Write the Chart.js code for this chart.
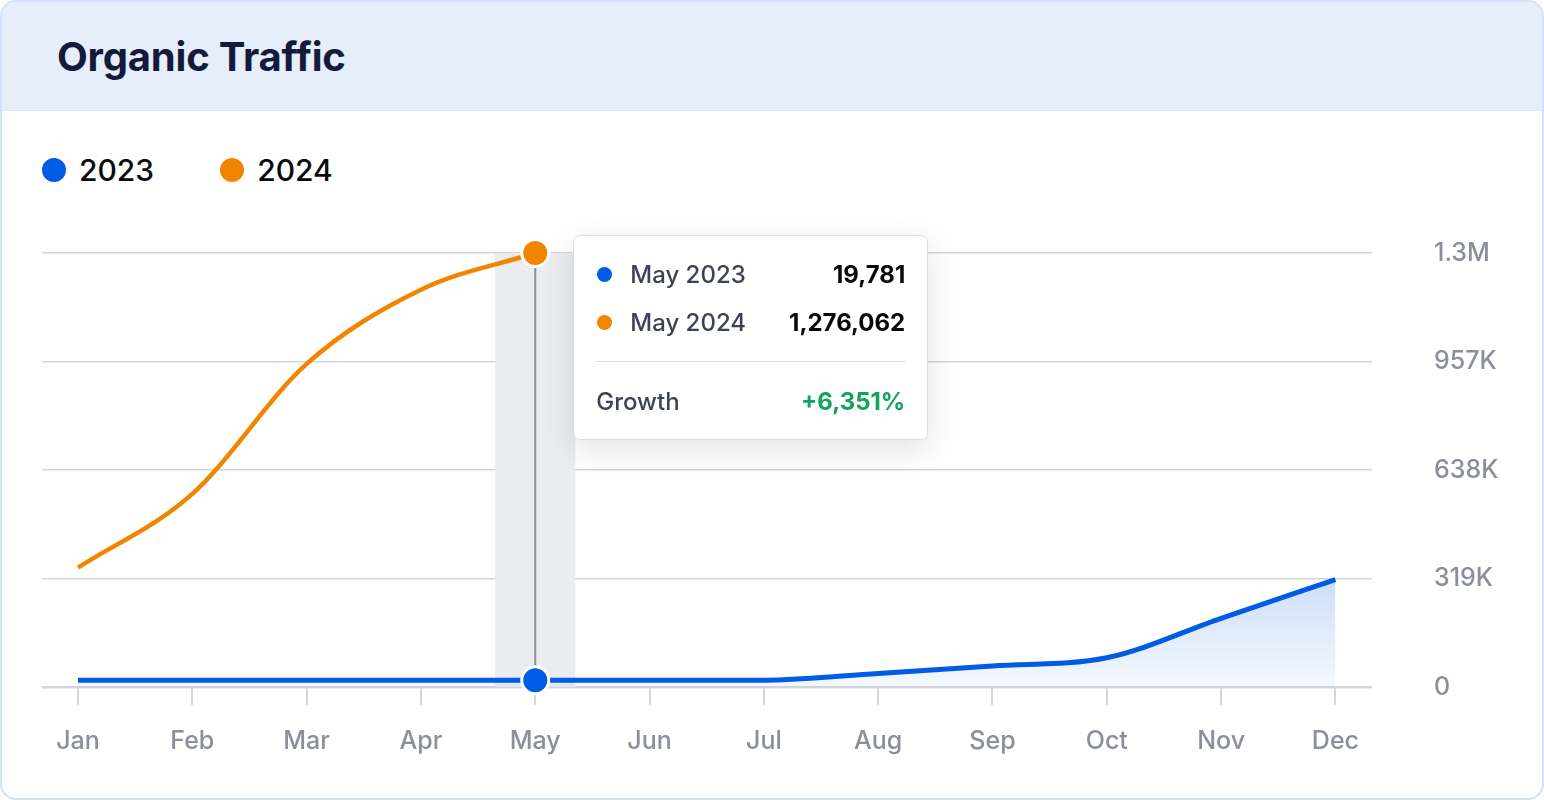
<!doctype html>
<html lang="en">
  <head>
    <meta charset="utf-8">
    <script src="https://cdn.jsdelivr.net/npm/chart.js@4.4.1/dist/chart.umd.min.js"></script>
    <title>Organic Traffic</title>
    <style>
      html, body { margin: 0; padding: 0; background: #fff; }
      body { width: 1544px; height: 800px; overflow: hidden; font-family: "Inter", "Lato", sans-serif; }
      .card {
        position: absolute; left: 0; top: 0; width: 1540px; height: 796px;
        border: 2px solid #d2e1fa; border-radius: 16px; overflow: hidden; background: #fff;
      }
      .head {
        height: 108px; background: #e6eefb; border-bottom: 1px solid #dde7f7;
      }
      .head h1 {
        margin: 0; position: absolute; left: 55px; top: 30px;
        font-size: 40px; font-weight: 700; color: #141b3a; letter-spacing: -0.2px;
      }
      .legend { position: absolute; left: 40px; top: 150px; display: flex; }
      .legend .item { display: flex; align-items: center; margin-right: 66px; }
      .legend .dot { width: 24px; height: 24px; border-radius: 50%; margin-right: 13px; }
      .legend span { font-size: 30px; font-weight: 500; color: #0b0b0f; }
      #wrap { position: absolute; left: -2px; top: 198px; width: 1542px; height: 598px; }
      #tip {
        position: absolute; width: 355px; box-sizing: border-box; background: #fff;
        border: 1.5px solid #dcdde3; border-radius: 7px; padding: 14px 22px 14px 22px;
        box-shadow: 0 10px 30px rgba(30, 35, 60, 0.12); display: none;
      }
      #tip .row { display: flex; align-items: center; height: 48px; font-size: 24px; font-weight: 500; }
      #tip .dot { width: 15px; height: 15px; border-radius: 50%; margin-right: 18px; margin-left: 1px; }
      #tip .lbl { color: #3d4257; flex: 1; }
      #tip .val { color: #09090c; font-weight: 700; }
      #tip hr { border: 0; border-top: 1.5px solid #dcdde2; margin: 15px 0 15px 0; }
      #tip .grow { color: #12a35c; font-weight: 700; }
    </style>
  </head>
  <body>
    <div class="card">
      <div class="head"><h1>Organic Traffic</h1></div>
      <div class="legend" id="legend"></div>
      <div id="wrap">
        <canvas id="trafficChart"></canvas>
        <div id="tip"></div>
      </div>
    </div>

  <script>
    // data
    const months = ['Jan','Feb','Mar','Apr','May','Jun','Jul','Aug','Sep','Oct','Nov','Dec'];
    const years = ['2023', '2024'];
    const traffic2023 = [19700, 19720, 19740, 19760, 19781, 19800, 19850, 40000, 62000, 86000, 202000, 316000];
    const traffic2024 = [351000, 568000, 950000, 1168000, 1276062];
    const yTickValues = [0, 319016, 638031, 957047, 1276062];
    const yTickLabels = ['0', '319K', '638K', '957K', '1.3M'];
    const focusMonth = 4; // May

    const blue = '#005ce5';
    const orange = '#f18500';
    const colors = [blue, orange];

    // legend
    let legend = document.getElementById('legend');
    years.forEach((y, i) => {
      let item = document.createElement('div');
      item.className = 'item';
      item.innerHTML = `<div class="dot" style="background:${colors[i]}"></div><span>${y}</span>`;
      legend.append(item);
    });

    const toPoints = arr => arr.map((v, i) => ({ x: i, y: v }));
    const fmt = n => n.toLocaleString('en-US');

    // grey band + vertical guide behind the lines
    const focusPlugin = {
      id: 'focusBand',
      beforeDatasetsDraw(chart) {
        const { ctx, chartArea, scales } = chart;
        const x = scales.x.getPixelForValue(focusMonth);
        const half = (scales.x.getPixelForValue(1) - scales.x.getPixelForValue(0)) * 0.35;
        ctx.save();
        ctx.fillStyle = '#ebecef';
        ctx.fillRect(x - half, chartArea.top, half * 2, chartArea.bottom - chartArea.top);
        const yTop = scales.y.getPixelForValue(traffic2024[focusMonth]);
        const yBot = scales.y.getPixelForValue(traffic2023[focusMonth]);
        ctx.strokeStyle = '#8d8f9c';
        ctx.lineWidth = 2;
        ctx.beginPath();
        ctx.moveTo(x, yTop);
        ctx.lineTo(x, yBot);
        ctx.stroke();
        ctx.restore();
      }
    };

    function externalTip(context) {
      const { chart, tooltip } = context;
      const tip = document.getElementById('tip');
      if (tooltip.opacity === 0 || !tooltip.dataPoints || !tooltip.dataPoints.length) {
        tip.style.display = 'none';
        return;
      }
      const pts = tooltip.dataPoints;
      const m = months[pts[0].dataIndex];
      let html = '';
      pts.forEach(p => {
        html += `<div class="row"><div class="dot" style="background:${colors[p.datasetIndex]}"></div>` +
                `<div class="lbl">${m} ${years[p.datasetIndex]}</div><div class="val">${fmt(p.parsed.y)}</div></div>`;
      });
      const a = pts[0].parsed.y, b = pts[pts.length - 1].parsed.y;
      const growth = Math.round((b / a - 1) * 100);
      html += `<hr><div class="row"><div class="lbl">Growth</div><div class="grow">+${fmt(growth)}%</div></div>`;
      tip.innerHTML = html;
      const el = pts[pts.length - 1].element;
      tip.style.display = 'block';
      tip.style.left = (el.x + 38) + 'px';
      tip.style.top = (el.y - 18) + 'px';
    }

    const pointR = ctx => ctx.dataIndex === focusMonth ? 13.5 : 0;

    const canvas = document.getElementById('trafficChart').getContext('2d');
    const chart = new Chart(canvas, {
      type: 'line',
      data: {
        datasets: [
          {
            label: years[0],
            data: toPoints(traffic2023),
            borderColor: blue,
            borderWidth: 5,
            fill: 'origin',
            backgroundColor: ctx => {
              const c = ctx.chart;
              if (!c.chartArea) return 'rgba(0,92,229,0.1)';
              const top = c.scales.y.getPixelForValue(Math.max(...traffic2023));
              const g = c.ctx.createLinearGradient(0, top, 0, c.chartArea.bottom);
              g.addColorStop(0, 'rgba(0,92,229,0.2)');
              g.addColorStop(1, 'rgba(0,92,229,0.04)');
              return g;
            },
            cubicInterpolationMode: 'monotone',
            clip: false,
            pointRadius: pointR,
            pointHoverRadius: pointR,
            pointBackgroundColor: blue,
            pointBorderColor: '#fff',
            pointBorderWidth: 3,
            order: 1
          },
          {
            label: years[1],
            data: toPoints(traffic2024),
            borderColor: orange,
            borderWidth: 4.5,
            fill: false,
            cubicInterpolationMode: 'monotone',
            clip: false,
            pointRadius: pointR,
            pointHoverRadius: pointR,
            pointBackgroundColor: orange,
            pointBorderColor: '#fff',
            pointBorderWidth: 3,
            order: 0
          }
        ]
      },
      options: {
        responsive: true,
        maintainAspectRatio: false,
        animation: false,
        events: [],
        layout: { padding: { left: 42, top: 53, right: 0, bottom: 0 } },
        interaction: { mode: 'index', intersect: false },
        plugins: {
          legend: { display: false },
          tooltip: { enabled: false, external: externalTip }
        },
        scales: {
          x: {
            type: 'linear',
            min: -0.315,
            max: 11.32,
            afterBuildTicks: s => { s.ticks = months.map((m, i) => ({ value: i })); },
            afterFit: s => { s.height = 111; s.paddingLeft = 0; s.paddingRight = 0; },
            grid: { drawOnChartArea: false, drawTicks: true, tickLength: 18, color: '#d4d5db', lineWidth: 2 },
            border: { display: false },
            ticks: {
              callback: v => months[v],
              color: '#8b8e9b',
              font: { family: 'Inter', size: 25, weight: 500 },
              padding: 21,
              maxRotation: 0,
              autoSkip: false
            }
          },
          y: {
            position: 'right',
            min: 0,
            max: yTickValues[yTickValues.length - 1],
            afterBuildTicks: s => { s.ticks = yTickValues.map(v => ({ value: v })); },
            afterFit: s => { s.width = 170; s.paddingTop = 0; s.paddingBottom = 0; },
            grid: {
              drawTicks: false,
              color: '#d4d5db',
              lineWidth: ctx => ctx.tick && ctx.tick.value === 0 ? 2.5 : 1.5
            },
            border: { display: false },
            ticks: {
              callback: (v, i) => yTickLabels[i],
              color: '#8b8e9b',
              font: { family: 'Inter', size: 25, weight: 500 },
              padding: 62
            }
          }
        }
      },
      plugins: [focusPlugin]
    });

    chart.tooltip.setActiveElements(
      years.map((y, i) => ({ datasetIndex: i, index: focusMonth })),
      { x: 0, y: 0 }
    );
    chart.update('none');
  </script>
  </body>
</html>
